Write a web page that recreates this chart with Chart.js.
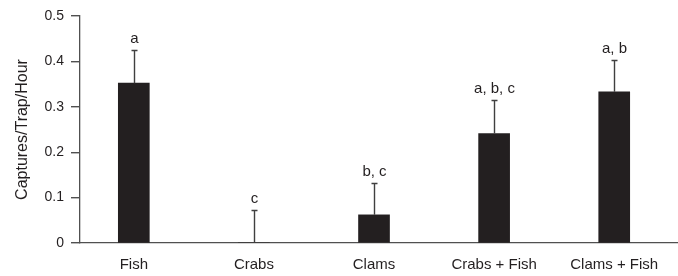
<!DOCTYPE html>
<html>
<head>
<meta charset="utf-8">
<script src="https://cdn.jsdelivr.net/npm/chart.js@4.4.1/dist/chart.umd.min.js"></script>
<style>
  html, body { margin: 0; padding: 0; background: #ffffff; }
  #wrap { width: 678px; height: 276px; position: relative; }
</style>
</head>
<body>
<div id="wrap"><canvas id="c" width="678" height="276"></canvas></div>
<script>
const categories = ["Fish", "Crabs", "Clams", "Crabs + Fish", "Clams + Fish"];
const meanCaptures = [0.352, 0.0, 0.062, 0.241, 0.333];
const standardErrors = [0.073, 0.073, 0.071, 0.074, 0.069];
const groupLetters = ["a", "c", "b, c", "a, b, c", "a, b"];
const yTickValues = [0, 0.1, 0.2, 0.3, 0.4, 0.5];
const yTickLabels = ["0", "0.1", "0.2", "0.3", "0.4", "0.5"];

const INK = "#231f20";
const AXIS = "#505050";
const FONT = "'Liberation Sans', Arial, Helvetica, sans-serif";

const errorBarPlugin = {
  id: "errorBars",
  afterDatasetsDraw(chart) {
    const meta = chart.getDatasetMeta(0);
    const yScale = chart.scales.y;
    const ctx = chart.ctx;
    ctx.save();
    meta.data.forEach((bar, i) => {
      const x = Math.round(bar.x) + 0.5;
      const yBase = yScale.getPixelForValue(meanCaptures[i]);
      const yTop = Math.round(yScale.getPixelForValue(meanCaptures[i] + standardErrors[i])) + 0.5;
      ctx.strokeStyle = "#3f3f3f";
      ctx.lineWidth = 1.4;
      ctx.beginPath();
      ctx.moveTo(x, yBase);
      ctx.lineTo(x, yTop);
      ctx.moveTo(x - 3, yTop);
      ctx.lineTo(x + 3, yTop);
      ctx.stroke();
      ctx.fillStyle = INK;
      ctx.font = "15px " + FONT;
      ctx.textAlign = "center";
      ctx.textBaseline = "alphabetic";
      ctx.fillText(groupLetters[i], x, yTop - 8);
    });
    ctx.restore();
  }
};

new Chart(document.getElementById("c"), {
  type: "bar",
  data: {
    datasets: [{
      data: categories.map((c, i) => ({ x: i, y: meanCaptures[i] })),
      backgroundColor: INK,
      borderWidth: 0,
      barThickness: 31
    }]
  },
  options: {
    responsive: false,
    animation: false,
    devicePixelRatio: 1,
    layout: { padding: { top: 16, left: 0, right: 0, bottom: 0 } },
    plugins: {
      legend: { display: false },
      tooltip: { enabled: false }
    },
    scales: {
      x: {
        type: "linear",
        offset: false,
        min: -0.448,
        max: 4.531,
        afterBuildTicks(scale) {
          scale.ticks = categories.map((c, i) => ({ value: i }));
        },
        afterFit(scale) { scale.height = 33; },
        ticks: {
          callback: (v) => categories[v],
          color: INK,
          font: { family: FONT, size: 15 },
          padding: 13,
          maxRotation: 0,
          autoSkip: false
        },
        grid: { display: false, drawTicks: false },
        border: { display: true, color: AXIS, width: 1.3 }
      },
      y: {
        min: 0,
        max: 0.5,
        afterBuildTicks(scale) {
          scale.ticks = yTickValues.map(v => ({ value: v }));
        },
        afterFit(scale) { scale.width = 80; },
        ticks: {
          callback: (v) => yTickLabels[yTickValues.indexOf(v)],
          color: INK,
          font: { family: FONT, size: 14 },
          padding: 7
        },
        grid: {
          display: true,
          drawOnChartArea: false,
          drawTicks: true,
          tickLength: 9,
          color: AXIS,
          lineWidth: 1.4
        },
        border: { display: true, color: AXIS, width: 1.3 },
        title: {
          display: true,
          text: "Captures/Trap/Hour",
          color: INK,
          font: { family: FONT, size: 16 },
          padding: { top: 13, bottom: 0 }
        }
      }
    }
  },
  plugins: [errorBarPlugin]
});
</script>
</body>
</html>
